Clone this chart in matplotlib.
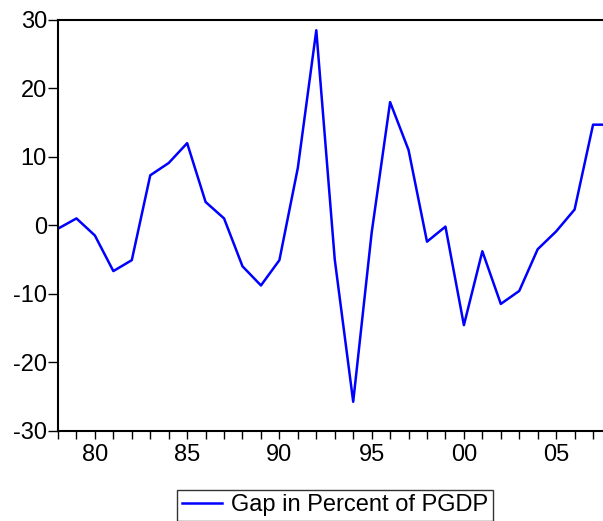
import matplotlib
matplotlib.use("Agg")
import matplotlib.pyplot as plt
from matplotlib.ticker import MultipleLocator, FixedLocator, FuncFormatter

years = list(range(1978, 2009))
gap = [-0.5, 1.0, -1.5, -6.7, -5.1, 7.3, 9.1, 12.0, 3.4, 1.0, -6.0, -8.8, -5.1,
       8.4, 28.5, -5.0, -25.8, -1.1, 18.0, 11.0, -2.4, -0.2, -14.6, -3.8, -11.5,
       -9.6, -3.5, -0.9, 2.3, 14.7, 14.7]
series_label = "Gap in Percent of PGDP"
yticks = [-30, -20, -10, 0, 10, 20, 30]
xlabel_years = [1980, 1985, 1990, 1995, 2000, 2005]

plt.rcParams['font.family'] = ['Liberation Sans', 'DejaVu Sans']
plt.rcParams['axes.unicode_minus'] = False

W, H = 603, 521
fig = plt.figure(figsize=(W / 100, H / 100), dpi=100)
left, right, top, bottom = 58, 611.5, 20, 430.5
ax = fig.add_axes([left / W, (H - bottom) / H, (right - left) / W, (bottom - top) / H])

ax.plot(years, gap, color='#0000ff', linewidth=1.8, label=series_label)

ax.set_xlim(1978, 2008)
ax.set_ylim(-30, 30)
ax.yaxis.set_major_locator(FixedLocator(yticks))
ax.xaxis.set_major_locator(FixedLocator(xlabel_years))
ax.xaxis.set_minor_locator(MultipleLocator(1))
ax.xaxis.set_major_formatter(FuncFormatter(lambda v, p: f"{int(v) % 100:02d}"))

for s in ['left', 'bottom', 'top', 'right']:
    ax.spines[s].set_linewidth(1.5)
    ax.spines[s].set_color('black')

fs = 17
ax.tick_params(axis='y', direction='out', length=7, width=1.0, labelsize=fs, pad=1)
ax.tick_params(axis='x', which='both', direction='out', length=6, width=1.0,
               labelsize=fs, pad=4)

leg = fig.legend(loc='lower left', bbox_to_anchor=(177 / W, 0.0), fontsize=fs,
                 frameon=True, fancybox=False, edgecolor='black',
                 handlelength=1.7, borderpad=0.2, handletextpad=0.4,
                 borderaxespad=0)
leg.get_frame().set_linewidth(1.0)

fig.savefig("out.png", dpi=100)
